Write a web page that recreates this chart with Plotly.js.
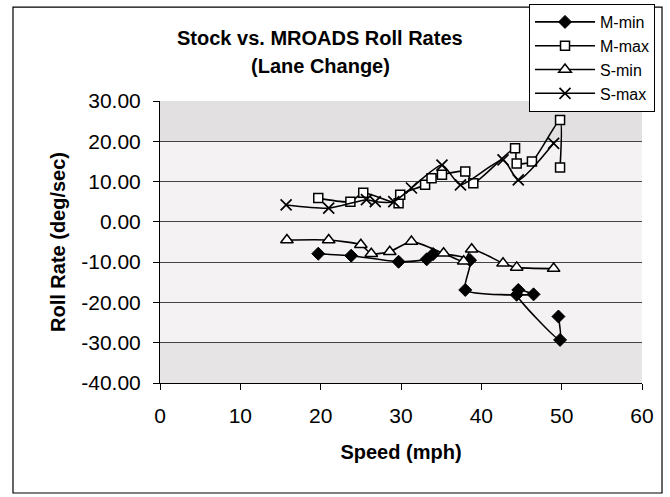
<!DOCTYPE html>
<html>
<head>
<meta charset="utf-8">
<script src="https://cdn.plot.ly/plotly-3.0.1.min.js"></script>
<style>html,body{margin:0;padding:0;background:#fff;}#chart{width:670px;height:497px;}</style>
</head>
<body>
<div id="chart"></div>
<script>
// Speed (mph) and roll rate (deg/sec)
const mMinSpeed = [19.7, 23.8, 29.7, 33.2, 34.0, 38.6, 38.0, 46.5, 44.6, 44.4, 49.8, 49.6];
const mMinRoll  = [-7.9, -8.4, -9.9, -9.3, -8.0, -9.5, -16.9, -18.0, -16.9, -18.1, -29.3, -23.5];

const mMaxSpeed = [19.7, 23.7, 25.3, 29.7, 29.9, 33.0, 33.8, 35.1, 38.0, 39.0, 44.2, 44.4, 46.3, 49.8, 49.8];
const mMaxRoll  = [5.9, 5.0, 7.2, 4.6, 6.7, 9.2, 10.8, 11.7, 12.5, 9.6, 18.3, 14.5, 15.0, 25.3, 13.5];

const sMinSpeed = [15.8, 21.0, 25.0, 26.3, 28.6, 31.3, 35.3, 37.8, 38.8, 42.7, 44.4, 49.0];
const sMinRoll  = [-4.5, -4.5, -5.7, -7.9, -7.4, -4.9, -7.8, -9.8, -6.8, -10.3, -11.3, -11.6];

const sMaxSpeed = [15.7, 21.0, 25.7, 26.8, 29.1, 31.3, 35.1, 37.4, 42.7, 44.6, 49.0];
const sMaxRoll  = [4.2, 3.4, 5.5, 5.0, 5.0, 8.4, 14.1, 9.2, 15.4, 10.4, 19.5];

const seriesNames = ["M-min", "M-max", "S-min", "S-max"];
const xTicks = [0, 10, 20, 30, 40, 50, 60];
const yTicks = [30, 20, 10, 0, -10, -20, -30, -40];

const lineStyle = {color: "#000", width: 1.6, shape: "spline", smoothing: 0.6};
const traces = [
  {x: mMinSpeed, y: mMinRoll, name: seriesNames[0], mode: "lines+markers", line: lineStyle,
   marker: {symbol: "diamond", size: 10, color: "#000", line: {color: "#000", width: 1}}},
  {x: mMaxSpeed, y: mMaxRoll, name: seriesNames[1], mode: "lines+markers", line: lineStyle,
   marker: {symbol: "square", size: 9, color: "#fff", line: {color: "#000", width: 1.5}}},
  {x: sMinSpeed, y: sMinRoll, name: seriesNames[2], mode: "lines+markers", line: lineStyle,
   marker: {symbol: "triangle-up", size: 11, color: "#fff", line: {color: "#000", width: 1.5}}},
  {x: sMaxSpeed, y: sMaxRoll, name: seriesNames[3], mode: "lines+markers", line: lineStyle,
   marker: {symbol: "x-thin-open", size: 11, color: "#000", line: {color: "#000", width: 1.7}}}
];

const font = "Arial, 'Liberation Sans', sans-serif";
const layout = {
  width: 670, height: 497,
  margin: {l: 160, r: 28, t: 101, b: 114, autoexpand: false},
  paper_bgcolor: "#fff",
  plot_bgcolor: "#f4f2f2",
  font: {family: font, color: "#000", size: 20},
  showlegend: true,
  legend: {
    x: 0.7656, y: 1.344, xanchor: "left", yanchor: "top",
    bgcolor: "#fff", bordercolor: "#000", borderwidth: 1,
    font: {family: font, size: 16, color: "#000"},
    tracegroupgap: 0, itemwidth: 60
  },
  xaxis: {
    range: [0, 60], tickvals: xTicks, ticktext: xTicks.map(String),
    ticks: "outside", ticklen: 6, tickcolor: "#000",
    showline: true, linecolor: "#000", linewidth: 1, mirror: false,
    showgrid: false, zeroline: false, ticklabelstandoff: 8,
    tickfont: {family: font, size: 21},
    title: {text: "<b>Speed (mph)</b>", font: {family: font, size: 20}, standoff: 18}
  },
  yaxis: {
    range: [-40, 30], tickvals: yTicks, ticktext: yTicks.map(v => v.toFixed(2)),
    ticks: "outside", ticklen: 6, tickcolor: "#000",
    showline: true, linecolor: "#000", linewidth: 1,
    showgrid: true, gridcolor: "#444", gridwidth: 1.2,
    zeroline: false, ticklabelstandoff: 8,
    tickfont: {family: font, size: 21},
    title: {text: "<b>Roll Rate (deg/sec)</b>", font: {family: font, size: 20}, standoff: 10}
  },
  annotations: [
    {xref: "paper", yref: "paper", x: 0.332, y: 1.225, xanchor: "center", yanchor: "middle",
     text: "<b>Stock vs. MROADS Roll Rates</b>", showarrow: false, font: {family: font, size: 20}},
    {xref: "paper", yref: "paper", x: 0.332, y: 1.125, xanchor: "center", yanchor: "middle",
     text: "<b>(Lane Change)</b>", showarrow: false, font: {family: font, size: 20}}
  ],
  shapes: [
    {type: "rect", xref: "paper", yref: "y", x0: 0, x1: 1, y0: 20, y1: 30,
     fillcolor: "#e2e0e0", line: {width: 0}, layer: "below"},
    {type: "rect", xref: "paper", yref: "y", x0: 0, x1: 1, y0: -40, y1: -30,
     fillcolor: "#e6e4e4", line: {width: 0}, layer: "below"},
    {type: "rect", xref: "paper", yref: "paper", x0: -0.305, x1: 1.0415, y0: -0.39, y1: 1.333,
     fillcolor: "rgba(0,0,0,0)", line: {color: "#000", width: 1.2}, layer: "below"}
  ]
};

Plotly.newPlot("chart", traces, layout, {displayModeBar: false, staticPlot: true});
</script>
</body>
</html>
